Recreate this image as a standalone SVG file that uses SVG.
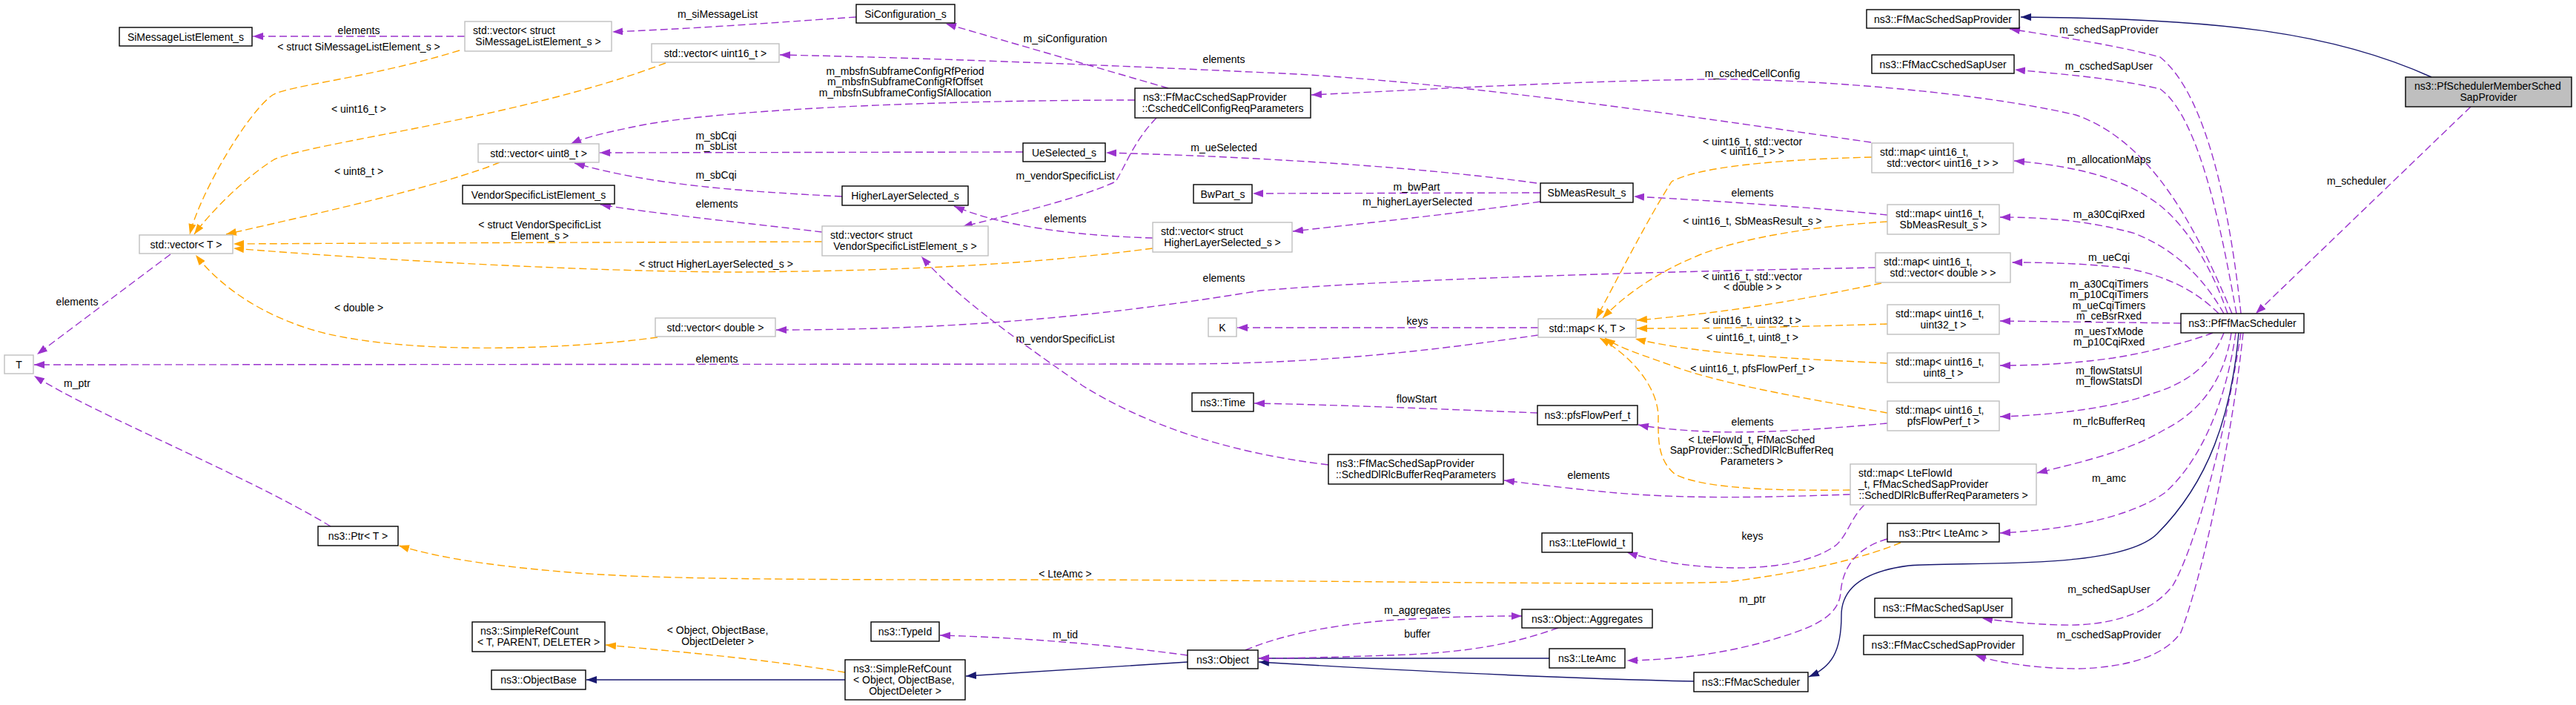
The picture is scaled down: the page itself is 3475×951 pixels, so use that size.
<svg xmlns="http://www.w3.org/2000/svg" width="3475" height="951" viewBox="0 0 3475 951">
<style>
text{font-family:"Liberation Sans",Arial,Helvetica,sans-serif;font-size:14px;fill:#000}
.c{text-anchor:middle}
.l{text-anchor:start}
.nb{fill:#fff;stroke:#000;stroke-width:1.4}
.ng{fill:#fff;stroke:#bfbfbf;stroke-width:1.4}
.nm{fill:#bfbfbf;stroke:#000;stroke-width:1.4}
.p{fill:none;stroke:#9a32cd;stroke-width:1.4;stroke-dasharray:10,5;marker-end:url(#mp)}
.o{fill:none;stroke:#ffa500;stroke-width:1.4;stroke-dasharray:10,5;marker-end:url(#mo)}
.n{fill:none;stroke:#191970;stroke-width:1.4;marker-end:url(#mn)}
</style>
<defs>
<marker id="mp" markerUnits="userSpaceOnUse" markerWidth="14" markerHeight="10" refX="14" refY="5" orient="auto"><path d="M0,0 L14,5 L0,10 z" fill="#9a32cd"/></marker>
<marker id="mo" markerUnits="userSpaceOnUse" markerWidth="14" markerHeight="10" refX="14" refY="5" orient="auto"><path d="M0,0 L14,5 L0,10 z" fill="#ffa500"/></marker>
<marker id="mn" markerUnits="userSpaceOnUse" markerWidth="14" markerHeight="10" refX="14" refY="5" orient="auto"><path d="M0,0 L14,5 L0,10 z" fill="#191970"/></marker>
</defs>
<rect x="0" y="0" width="3475" height="951" fill="#fff"/>
<g id="edges">
<path class="p" d="M627,49 L341,49"/>
<path class="o" d="M620,68 C500,105 390,115 368,128 C335,150 270,260 256,316"/>
<path class="o" d="M898,85 C700,160 430,190 370,215 C330,240 285,285 262,316"/>
<path class="o" d="M674,219 C600,250 420,290 305,316"/>
<path class="o" d="M1109,326 C800,327 500,328 315,329"/>
<path class="o" d="M1555,335 C1400,355 1250,365 1000,367 C800,367 500,350 315,335"/>
<path class="o" d="M887,455 C760,472 560,478 440,450 C360,430 300,390 264,344"/>
<path class="p" d="M230,343 L50,478"/>
<path class="p" d="M446,710 C330,640 130,560 46,507"/>
<path class="p" d="M2075,452 C1950,470 1800,490 1600,491 L46,492"/>
<path class="p" d="M2075,442 L1669,442"/>
<path class="p" d="M1531,135 C1300,135 1000,145 870,168 C820,178 790,185 770,194"/>
<path class="p" d="M1380,205 L809,206"/>
<path class="p" d="M1136,265 C1000,258 880,250 775,220"/>
<path class="p" d="M1109,313 C1000,300 880,288 810,276"/>
<path class="p" d="M1560,159 C1530,190 1520,220 1505,245 C1450,270 1360,290 1298,306"/>
<path class="p" d="M1792,627 C1650,610 1540,570 1460,520 C1360,450 1290,400 1243,346"/>
<path class="p" d="M1555,321 C1450,318 1350,305 1287,278"/>
<path class="p" d="M2078,272 C1950,290 1850,300 1744,312"/>
<path class="p" d="M2078,260 L1690,261"/>
<path class="p" d="M2073,247 C1950,230 1750,213 1492,206"/>
<path class="p" d="M2524,192 C2300,160 2000,115 1750,100 C1500,88 1250,78 1052,74"/>
<path class="p" d="M1155,23 C1050,30 950,38 826,43"/>
<path class="p" d="M1576,119 L1276,32"/>
<path class="p" d="M3011,423 C2960,300 2900,190 2800,155 C2650,120 2400,105 2300,107 C2100,110 1900,122 1769,128"/>
<path class="p" d="M3023,423 C3010,300 2980,130 2914,77 C2850,60 2780,50 2711,39"/>
<path class="p" d="M3017,423 C3000,330 2970,160 2914,120 C2850,105 2780,100 2718,94"/>
<path class="p" d="M3005,423 C2980,350 2940,290 2896,265 C2850,235 2780,222 2717,217"/>
<path class="p" d="M3000,423 C2970,370 2930,335 2880,315 C2820,298 2760,293 2698,293"/>
<path class="p" d="M2993,423 C2960,390 2920,372 2870,362 C2820,356 2770,354 2714,354"/>
<path class="p" d="M2942,436 L2698,433"/>
<path class="p" d="M2985,449 C2950,462 2900,475 2850,483 C2800,490 2750,493 2698,493"/>
<path class="p" d="M3000,449 C2980,500 2940,520 2900,532 C2850,550 2770,560 2698,562"/>
<path class="p" d="M3010,449 C3000,520 2960,560 2919,580 C2870,610 2800,625 2748,638"/>
<path class="p" d="M3016,449 C3000,560 2960,630 2920,665 C2870,700 2780,715 2698,719"/>
<path class="p" d="M3023,449 C3000,600 2960,740 2931,790 C2900,830 2840,845 2780,843 C2740,842 2700,838 2674,834"/>
<path class="p" d="M3026,449 C3010,600 2970,780 2942,853 C2920,885 2870,900 2805,902 C2750,902 2700,895 2665,884"/>
<path class="n" d="M3020,449 C3010,560 2980,650 2910,720 C2860,770 2650,757 2575,763 C2520,770 2484,790 2484,830 C2484,880 2470,900 2440,913"/>
<path class="n" d="M3280,104 C3150,45 3000,25 2726,23"/>
<path class="p" d="M3333,144 L3043,423"/>
<path class="o" d="M2525,212 C2400,215 2290,225 2255,245 C2220,300 2180,380 2153,430"/>
<path class="o" d="M2546,299 C2450,305 2350,320 2290,345 C2230,370 2190,400 2162,429"/>
<path class="o" d="M2538,382 C2450,400 2350,420 2208,432"/>
<path class="o" d="M2546,437 C2450,440 2350,443 2208,443"/>
<path class="o" d="M2546,490 C2450,485 2300,480 2206,457"/>
<path class="o" d="M2546,557 C2450,540 2330,520 2260,495 C2220,480 2185,470 2165,456"/>
<path class="o" d="M2496,661 C2400,662 2300,660 2260,640 C2235,620 2237,590 2237,560 C2235,520 2200,480 2158,456"/>
<path class="p" d="M2546,571 C2450,580 2360,585 2300,582 C2260,580 2230,577 2210,573"/>
<path class="p" d="M2074,557 C1950,552 1800,546 1692,544"/>
<path class="p" d="M2496,667 C2400,670 2280,675 2160,663 C2100,657 2060,652 2029,648"/>
<path class="p" d="M2515,681 C2495,700 2490,730 2470,740 C2420,770 2330,770 2260,760 C2230,755 2210,750 2195,745"/>
<path class="o" d="M2564,732 C2520,750 2450,770 2330,785 C2200,790 1800,783 1437,782 C1100,782 900,782 780,773 C680,765 600,755 538,736"/>
<path class="p" d="M2546,727 C2500,740 2485,770 2483,800 C2480,830 2450,845 2400,860 C2330,882 2260,890 2195,891"/>
<path class="n" d="M2090,888 L1698,888"/>
<path class="n" d="M2285,919 C2100,915 1900,905 1698,893"/>
<path class="p" d="M1680,877 C1720,860 1780,845 1870,837 C1950,832 2000,831 2053,831"/>
<path class="p" d="M2102,847 C2050,865 2000,878 1900,883 C1820,886 1750,888 1698,888"/>
<path class="p" d="M1602,884 C1500,870 1380,860 1268,857"/>
<path class="n" d="M1602,893 L1303,912"/>
<path class="n" d="M1140,917 L791,917"/>
<path class="o" d="M1140,907 C1050,892 950,882 817,870"/>
<path class="p" d="M2546,290 C2450,280 2300,270 2204,265"/>
<path class="p" d="M2530,361 C2300,365 1900,375 1700,392 C1500,425 1300,445 1047,445"/>
</g>
<g id="edge-labels">
<text class="c" x="484" y="46">elements</text>
<text class="c" x="484" y="68">&lt; struct SiMessageListElement_s &gt;</text>
<text class="c" x="484" y="152">&lt; uint16_t &gt;</text>
<text class="c" x="484" y="236">&lt; uint8_t &gt;</text>
<text class="c" x="728" y="308">&lt; struct VendorSpecificList</text>
<text class="c" x="728" y="323">Element_s &gt;</text>
<text class="c" x="966" y="361">&lt; struct HigherLayerSelected_s &gt;</text>
<text class="c" x="104" y="412">elements</text>
<text class="c" x="484" y="420">&lt; double &gt;</text>
<text class="c" x="968" y="24">m_siMessageList</text>
<text class="c" x="1437" y="57">m_siConfiguration</text>
<text class="c" x="1651" y="85">elements</text>
<text class="c" x="1221" y="101">m_mbsfnSubframeConfigRfPeriod</text>
<text class="c" x="1221" y="115">m_mbsfnSubframeConfigRfOffset</text>
<text class="c" x="1221" y="130">m_mbsfnSubframeConfigSfAllocation</text>
<text class="c" x="966" y="188">m_sbCqi</text>
<text class="c" x="966" y="202">m_sbList</text>
<text class="c" x="1651" y="204">m_ueSelected</text>
<text class="c" x="966" y="241">m_sbCqi</text>
<text class="c" x="1437" y="242">m_vendorSpecificList</text>
<text class="c" x="967" y="280">elements</text>
<text class="c" x="1437" y="300">elements</text>
<text class="c" x="1651" y="380">elements</text>
<text class="c" x="1437" y="462">m_vendorSpecificList</text>
<text class="c" x="2364" y="104">m_cschedCellConfig</text>
<text class="c" x="2364" y="196">&lt; uint16_t, std::vector</text>
<text class="c" x="2364" y="209">&lt; uint16_t &gt; &gt;</text>
<text class="c" x="1911" y="257">m_bwPart</text>
<text class="c" x="1912" y="277">m_higherLayerSelected</text>
<text class="c" x="2364" y="265">elements</text>
<text class="c" x="2364" y="303">&lt; uint16_t, SbMeasResult_s &gt;</text>
<text class="c" x="2364" y="378">&lt; uint16_t, std::vector</text>
<text class="c" x="2364" y="392">&lt; double &gt; &gt;</text>
<text class="c" x="1912" y="438">keys</text>
<text class="c" x="2364" y="437">&lt; uint16_t, uint32_t &gt;</text>
<text class="c" x="2364" y="460">&lt; uint16_t, uint8_t &gt;</text>
<text class="c" x="2845" y="45">m_schedSapProvider</text>
<text class="c" x="2845" y="94">m_cschedSapUser</text>
<text class="c" x="2845" y="220">m_allocationMaps</text>
<text class="c" x="3179" y="249">m_scheduler</text>
<text class="c" x="2845" y="294">m_a30CqiRxed</text>
<text class="c" x="2845" y="352">m_ueCqi</text>
<text class="c" x="2845" y="388">m_a30CqiTimers</text>
<text class="c" x="2845" y="402">m_p10CqiTimers</text>
<text class="c" x="2845" y="417">m_ueCqiTimers</text>
<text class="c" x="2845" y="431">m_ceBsrRxed</text>
<text class="c" x="2845" y="452">m_uesTxMode</text>
<text class="c" x="2845" y="466">m_p10CqiRxed</text>
<text class="c" x="2845" y="505">m_flowStatsUl</text>
<text class="c" x="2845" y="519">m_flowStatsDl</text>
<text class="c" x="2845" y="573">m_rlcBufferReq</text>
<text class="c" x="2845" y="650">m_amc</text>
<text class="c" x="2845" y="800">m_schedSapUser</text>
<text class="c" x="2845" y="861">m_cschedSapProvider</text>
<text class="c" x="2364" y="502">&lt; uint16_t, pfsFlowPerf_t &gt;</text>
<text class="c" x="1911" y="543">flowStart</text>
<text class="c" x="2364" y="574">elements</text>
<text class="c" x="2363" y="598">&lt; LteFlowId_t, FfMacSched</text>
<text class="c" x="2363" y="612">SapProvider::SchedDlRlcBufferReq</text>
<text class="c" x="2363" y="627">Parameters &gt;</text>
<text class="c" x="2143" y="646">elements</text>
<text class="c" x="2364" y="728">keys</text>
<text class="c" x="2364" y="813">m_ptr</text>
<text class="c" x="1912" y="828">m_aggregates</text>
<text class="c" x="1912" y="860">buffer</text>
<text class="c" x="967" y="489">elements</text>
<text class="c" x="1437" y="779">&lt; LteAmc &gt;</text>
<text class="c" x="968" y="855">&lt; Object, ObjectBase,</text>
<text class="c" x="968" y="870">ObjectDeleter &gt;</text>
<text class="c" x="1437" y="861">m_tid</text>
<text class="c" x="104" y="522">m_ptr</text>
</g>
<g id="n_SiMessageListElement_s"><rect class="nb" x="161" y="37" width="179" height="25"/><text class="c" x="250.5" y="54.5">SiMessageListElement_s</text></g>
<g id="n_vec_SiMsg"><rect class="ng" x="627" y="29" width="198" height="40"/><text class="l" x="638" y="46">std::vector&lt; struct</text><text class="c" x="726" y="61">SiMessageListElement_s &gt;</text></g>
<g id="n_vec_u16"><rect class="ng" x="879" y="59" width="172" height="25"/><text class="c" x="965" y="76.5">std::vector&lt; uint16_t &gt;</text></g>
<g id="n_SiConfiguration_s"><rect class="nb" x="1155" y="6" width="133" height="25"/><text class="c" x="1221.5" y="23.5">SiConfiguration_s</text></g>
<g id="n_CschedCellConfigReqParameters"><rect class="nb" x="1531" y="119" width="237" height="40"/><text class="l" x="1542" y="136">ns3::FfMacCschedSapProvider</text><text class="c" x="1649.5" y="151">::CschedCellConfigReqParameters</text></g>
<g id="n_vec_u8"><rect class="ng" x="645" y="194" width="163" height="25"/><text class="c" x="726.5" y="211.5">std::vector&lt; uint8_t &gt;</text></g>
<g id="n_UeSelected_s"><rect class="nb" x="1380" y="193" width="111" height="25"/><text class="c" x="1435.5" y="210.5">UeSelected_s</text></g>
<g id="n_VendorSpecificListElement_s"><rect class="nb" x="624" y="250" width="205" height="25"/><text class="c" x="726.5" y="267.5">VendorSpecificListElement_s</text></g>
<g id="n_HigherLayerSelected_s"><rect class="nb" x="1136" y="251" width="170" height="26"/><text class="c" x="1221" y="269">HigherLayerSelected_s</text></g>
<g id="n_BwPart_s"><rect class="nb" x="1610" y="249" width="79" height="25"/><text class="c" x="1649.5" y="266.5">BwPart_s</text></g>
<g id="n_vec_Vendor"><rect class="ng" x="1109" y="305" width="224" height="40"/><text class="l" x="1120" y="322">std::vector&lt; struct</text><text class="c" x="1221" y="337">VendorSpecificListElement_s &gt;</text></g>
<g id="n_vec_HLS"><rect class="ng" x="1555" y="300" width="188" height="40"/><text class="l" x="1566" y="317">std::vector&lt; struct</text><text class="c" x="1649" y="332">HigherLayerSelected_s &gt;</text></g>
<g id="n_vec_T"><rect class="ng" x="188" y="317" width="126" height="25"/><text class="c" x="251" y="334.5">std::vector&lt; T &gt;</text></g>
<g id="n_vec_double"><rect class="ng" x="884" y="429" width="162" height="25"/><text class="c" x="965" y="446.5">std::vector&lt; double &gt;</text></g>
<g id="n_K"><rect class="ng" x="1630" y="429" width="38" height="25"/><text class="c" x="1649" y="446.5">K</text></g>
<g id="n_T"><rect class="ng" x="6" y="479" width="39" height="25"/><text class="c" x="25.5" y="496.5">T</text></g>
<g id="n_SbMeasResult_s"><rect class="nb" x="2078" y="247" width="125" height="26"/><text class="c" x="2140.5" y="265">SbMeasResult_s</text></g>
<g id="n_map_K_T"><rect class="ng" x="2075" y="430" width="132" height="25"/><text class="c" x="2141" y="447.5">std::map&lt; K, T &gt;</text></g>
<g id="n_FfMacSchedSapProvider"><rect class="nb" x="2518" y="13" width="206" height="25"/><text class="c" x="2621" y="30.5">ns3::FfMacSchedSapProvider</text></g>
<g id="n_FfMacCschedSapUser"><rect class="nb" x="2525" y="74" width="192" height="25"/><text class="c" x="2621" y="91.5">ns3::FfMacCschedSapUser</text></g>
<g id="n_map_u16_vec_u16"><rect class="ng" x="2525" y="193" width="191" height="40"/><text class="l" x="2536" y="210">std::map&lt; uint16_t,</text><text class="c" x="2620.5" y="225">std::vector&lt; uint16_t &gt; &gt;</text></g>
<g id="n_map_u16_SbMeas"><rect class="ng" x="2546" y="276" width="151" height="40"/><text class="l" x="2557" y="293">std::map&lt; uint16_t,</text><text class="c" x="2621.5" y="308">SbMeasResult_s &gt;</text></g>
<g id="n_map_u16_vec_double"><rect class="ng" x="2530" y="341" width="182" height="40"/><text class="l" x="2541" y="358">std::map&lt; uint16_t,</text><text class="c" x="2621" y="373">std::vector&lt; double &gt; &gt;</text></g>
<g id="n_map_u16_u32"><rect class="ng" x="2546" y="411" width="151" height="40"/><text class="l" x="2557" y="428">std::map&lt; uint16_t,</text><text class="c" x="2621.5" y="443">uint32_t &gt;</text></g>
<g id="n_map_u16_u8"><rect class="ng" x="2546" y="476" width="151" height="40"/><text class="l" x="2557" y="493">std::map&lt; uint16_t,</text><text class="c" x="2621.5" y="508">uint8_t &gt;</text></g>
<g id="n_map_u16_pfs"><rect class="ng" x="2546" y="541" width="151" height="40"/><text class="l" x="2557" y="558">std::map&lt; uint16_t,</text><text class="c" x="2621.5" y="573">pfsFlowPerf_t &gt;</text></g>
<g id="n_map_LteFlowId"><rect class="ng" x="2496" y="626" width="251" height="55"/><text class="l" x="2507" y="643">std::map&lt; LteFlowId</text><text class="l" x="2507" y="658">_t, FfMacSchedSapProvider</text><text class="c" x="2621.5" y="673">::SchedDlRlcBufferReqParameters &gt;</text></g>
<g id="n_Ptr_LteAmc"><rect class="nb" x="2546" y="706" width="151" height="25"/><text class="c" x="2621.5" y="723.5">ns3::Ptr&lt; LteAmc &gt;</text></g>
<g id="n_FfMacSchedSapUser"><rect class="nb" x="2529" y="807" width="185" height="26"/><text class="c" x="2621.5" y="825">ns3::FfMacSchedSapUser</text></g>
<g id="n_FfMacCschedSapProvider"><rect class="nb" x="2514" y="857" width="215" height="26"/><text class="c" x="2621.5" y="875">ns3::FfMacCschedSapProvider</text></g>
<g id="n_PfSchedulerMemberSchedSapProvider"><rect class="nm" x="3245" y="104" width="224" height="40"/><text class="l" x="3257" y="121">ns3::PfSchedulerMemberSched</text><text class="c" x="3357" y="136">SapProvider</text></g>
<g id="n_PfFfMacScheduler"><rect class="nb" x="2942" y="423" width="166" height="26"/><text class="c" x="3025" y="441">ns3::PfFfMacScheduler</text></g>
<g id="n_Time"><rect class="nb" x="1608" y="530" width="83" height="25"/><text class="c" x="1649.5" y="547.5">ns3::Time</text></g>
<g id="n_pfsFlowPerf_t"><rect class="nb" x="2074" y="547" width="135" height="26"/><text class="c" x="2141.5" y="565">ns3::pfsFlowPerf_t</text></g>
<g id="n_SchedDlRlcBufferReqParameters"><rect class="nb" x="1792" y="613" width="236" height="40"/><text class="l" x="1803" y="630">ns3::FfMacSchedSapProvider</text><text class="c" x="1910" y="645">::SchedDlRlcBufferReqParameters</text></g>
<g id="n_LteFlowId_t"><rect class="nb" x="2080" y="719" width="122" height="26"/><text class="c" x="2141" y="737">ns3::LteFlowId_t</text></g>
<g id="n_Aggregates"><rect class="nb" x="2053" y="822" width="176" height="25"/><text class="c" x="2141" y="839.5">ns3::Object::Aggregates</text></g>
<g id="n_LteAmc"><rect class="nb" x="2090" y="875" width="102" height="26"/><text class="c" x="2141" y="893">ns3::LteAmc</text></g>
<g id="n_FfMacScheduler"><rect class="nb" x="2285" y="907" width="154" height="26"/><text class="c" x="2362" y="925">ns3::FfMacScheduler</text></g>
<g id="n_Ptr_T"><rect class="nb" x="429" y="710" width="108" height="26"/><text class="c" x="483" y="728">ns3::Ptr&lt; T &gt;</text></g>
<g id="n_SimpleRefCount_T"><rect class="nb" x="637" y="839" width="179" height="40"/><text class="l" x="648" y="856">ns3::SimpleRefCount</text><text class="c" x="726.5" y="871">&lt; T, PARENT, DELETER &gt;</text></g>
<g id="n_ObjectBase"><rect class="nb" x="663" y="904" width="127" height="26"/><text class="c" x="726.5" y="922">ns3::ObjectBase</text></g>
<g id="n_TypeId"><rect class="nb" x="1175" y="839" width="92" height="26"/><text class="c" x="1221" y="857">ns3::TypeId</text></g>
<g id="n_Object"><rect class="nb" x="1602" y="877" width="95" height="25"/><text class="c" x="1649.5" y="894.5">ns3::Object</text></g>
<g id="n_SimpleRefCount_Object"><rect class="nb" x="1140" y="890" width="162" height="54"/><text class="l" x="1151" y="907">ns3::SimpleRefCount</text><text class="l" x="1151" y="922">&lt; Object, ObjectBase,</text><text class="c" x="1221" y="937">ObjectDeleter &gt;</text></g>
</svg>
